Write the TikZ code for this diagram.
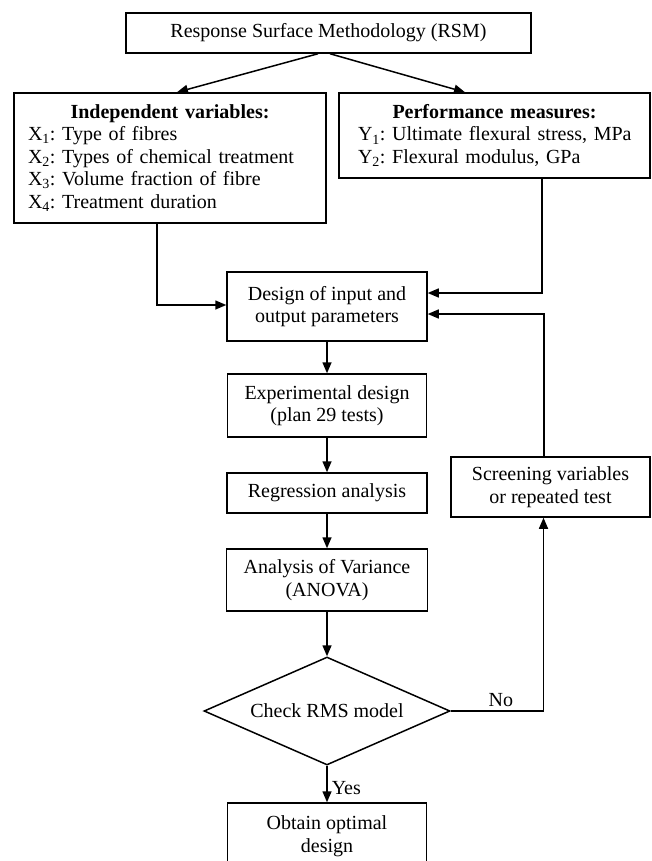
\documentclass[tikz,border=0pt]{standalone}
\usepackage{fontspec}
\setmainfont{Liberation Serif}
\usetikzlibrary{shapes.geometric,arrows.meta}
\begin{document}
\frenchspacing
\begin{tikzpicture}[x=1pt,y=-1pt,
  every node/.style={font=\fontsize{20}{22.5}\selectfont},
  box/.style={draw, line width=1.5pt, inner sep=0pt, align=center},
  arr/.style={line width=1.5pt, -{Triangle[length=11pt,width=9pt]}},
  lbl/.style={inner sep=4pt}]
\useasboundingbox (0,0) rectangle (652,861);

\node[box, minimum width=405pt, minimum height=40pt] (rsm) at (328.5,33) {Response Surface Methodology (RSM)};

\node[box, minimum width=312pt, minimum height=130pt, text width=284pt, align=left] (indep) at (170,158)
  {\makebox[\linewidth]{\textbf{Independent variables:}}\\
   \mbox{X\textsubscript{1}: Type of fibres}\\
   \mbox{X\textsubscript{2}: Types of chemical treatment}\\
   \mbox{X\textsubscript{3}: Volume fraction of fibre}\\
   \mbox{X\textsubscript{4}: Treatment duration}};

\node[box, minimum width=311pt, minimum height=85pt, text width=273pt, align=left] (perf) at (494.5,135.5)
  {\makebox[\linewidth]{\textbf{Performance measures:}}\\
   \mbox{Y\textsubscript{1}: Ultimate flexural stress, MPa}\\
   \mbox{Y\textsubscript{2}: Flexural modulus, GPa}};

\node[box, minimum width=200pt, minimum height=69pt] (design) at (327,306.5) {Design of input and\\output parameters};
\node[box, minimum width=199pt, minimum height=63pt] (exp) at (327,405.5) {Experimental design\\(plan 29 tests)};
\node[box, minimum width=200pt, minimum height=40pt] (reg) at (327,493) {Regression analysis};
\node[box, minimum width=201pt, minimum height=62pt] (anova) at (327,580) {Analysis of Variance\\(ANOVA)};
\node[box, diamond, aspect=2.28, minimum width=246pt, minimum height=108pt] (chk) at (327,711) {Check RMS model};
\node[box, minimum width=199pt, minimum height=60pt] (scr) at (550.5,487) {Screening variables\\or repeated test};
\node[box, minimum width=199pt, minimum height=66pt] (obt) at (327,836) {Obtain optimal\\design};

\draw[arr] ([xshift=-10.5pt]rsm.south) -- ([xshift=7pt]indep.north);
\draw[arr] ([xshift=1.5pt]rsm.south) -- ([xshift=-29.5pt]perf.north);
\draw[arr] ([xshift=-13pt]indep.south) |- ([yshift=1.5pt]design.west);
\draw[arr] ([xshift=47.5pt]perf.south) |- ([yshift=13.5pt]design.east);
\draw[arr] ([xshift=-6.5pt]scr.north) |- ([yshift=-7.5pt]design.east);
\draw[arr] (design) -- (exp);
\draw[arr] (exp) -- (reg);
\draw[arr] (reg) -- (anova);
\draw[arr] (anova) -- (chk);
\draw[arr] (chk.east) -| node[lbl, pos=0.27, above] (no) {No} ([xshift=-7pt]scr.south);
\draw[arr] (chk.south) -- node[lbl, pos=0.6, right] (yes) {Yes} (obt.north);
\end{tikzpicture}
\end{document}
